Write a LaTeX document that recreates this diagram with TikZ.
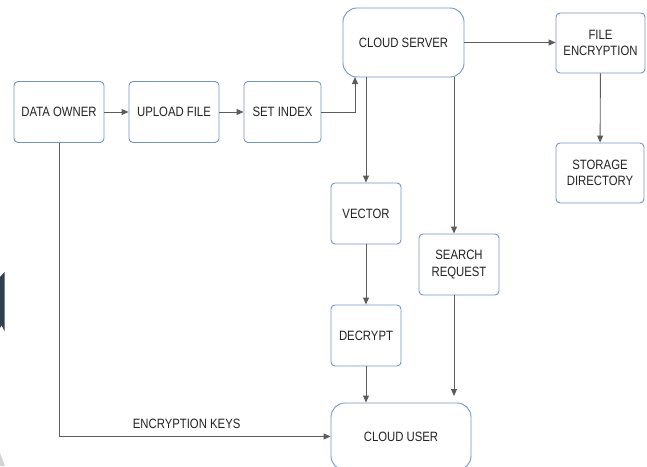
\documentclass[tikz,border=0pt]{standalone}
\usepackage{fontspec}
\setmainfont{Liberation Sans}[FakeStretch=0.84]
\usetikzlibrary{arrows.meta}
\definecolor{boxline}{HTML}{7394C9}
\definecolor{edgegray}{HTML}{5C5C5C}
\definecolor{txt}{HTML}{222222}
\definecolor{slate}{HTML}{2E3F50}
\tikzset{
  blk/.style={draw=boxline, line width=0.9pt, fill=white, rounded corners=4pt,
    align=center, inner sep=0pt, text=txt,
    font=\fontsize{13.5}{16.5}\selectfont},
  cloudblk/.style={blk, rounded corners=14pt},
  arr/.style={draw=edgegray, line width=0.9pt,
    -{Triangle[length=7pt, width=6pt]}},
}
\begin{document}
\begin{tikzpicture}[x=1pt, y=-1pt]
\useasboundingbox (0,0) rectangle (647,466);
\clip (0,0) rectangle (647,466);

% edge decorations at the left border
\fill[slate] (0,277) -- (4.5,272) -- (4.5,331) -- (1.5,325) -- (0,328) -- cycle;
\fill[gray!35] (0,453) -- (5,466) -- (0,466) -- cycle;

% blocks
\node[blk, minimum width=90pt, minimum height=61pt] (owner) at (59,112) {DATA OWNER};
\node[blk, minimum width=90pt, minimum height=61pt] (upload) at (174,112) {UPLOAD FILE};
\node[blk, minimum width=77pt, minimum height=61pt] (index) at (282.5,112) {SET INDEX};
\node[cloudblk, minimum width=121pt, minimum height=69pt] (server) at (403.5,42.5) {CLOUD SERVER};
\node[blk, minimum width=89pt, minimum height=60pt] (fenc) at (600.5,43) {FILE\\ENCRYPTION};
\node[blk, minimum width=88pt, minimum height=60pt] (store) at (600,173) {STORAGE\\DIRECTORY};
\node[blk, minimum width=70pt, minimum height=61pt] (vector) at (366,213.5) {VECTOR};
\node[blk, minimum width=80pt, minimum height=61pt] (search) at (459,264.5) {SEARCH\\REQUEST};
\node[blk, minimum width=70pt, minimum height=61pt] (decrypt) at (366,335.5) {DECRYPT};
\node[cloudblk, minimum width=140pt, minimum height=67pt] (user) at (401,436.5) {CLOUD USER};

% connectors
\coordinate (srvin) at (355,77);
\coordinate (srvout) at (454,77);
\coordinate (userin) at (454,396);

\draw[arr] (owner) -- (upload);
\draw[arr] (upload) -- (index);
\draw[arr] (index.east) -| (srvin);
\draw[arr] (server.east) -- (server.east -| fenc.west);
\draw[arr] (fenc) -- (store);
\draw[arr] (vector.north |- server.south) -- (vector.north);
\draw[arr] (srvout) -- (srvout |- search.north);
\draw[arr] (vector) -- (decrypt);
\draw[arr] (decrypt.south) -- (decrypt.south |- user.north);
\draw[arr] (userin |- search.south) -- (userin);
\draw[arr] (owner.south) |- (user.west)
  node[pos=0.735, anchor=base, yshift=8pt, text=txt,
       font=\fontsize{13.5}{16.5}\selectfont] (keys) {ENCRYPTION KEYS};
\end{tikzpicture}
\end{document}
